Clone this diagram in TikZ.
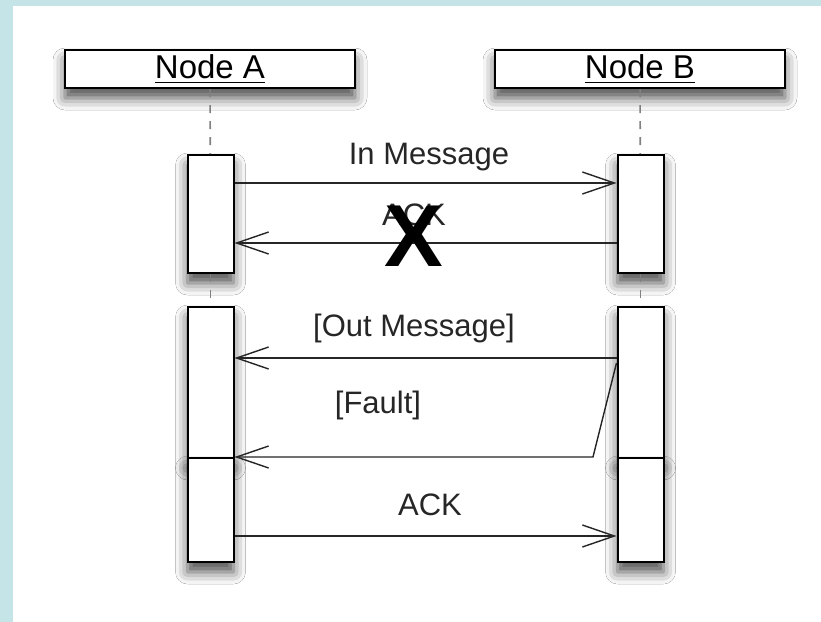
\documentclass[tikz,border=0pt]{standalone}
\usepackage{fontspec}
\setmainfont{Liberation Sans}
\usetikzlibrary{arrows.meta, shadows.blur}
\tikzset{>={Straight Barb[length=16pt,width=11pt]}}
\definecolor{bgblue}{HTML}{C5E4E8}

\begin{document}
\begin{tikzpicture}[x=0.5pt, y=-0.5pt,
    boxshadow/.style={blur shadow={shadow xshift=0pt, shadow yshift=-5pt, shadow blur radius=6pt, shadow opacity=70}},
    header/.style={draw, line width=1pt, fill=white, minimum width=145pt, minimum height=19pt, inner sep=0pt, font=\fontsize{16.5}{18}\selectfont, boxshadow},
    actbox/.style={draw, line width=1pt, fill=white, minimum width=23pt, inner sep=0pt, boxshadow},
    msg/.style={->, line width=0.7pt, black!85},
    lifeline/.style={gray, line width=0.8pt, dash pattern=on 4pt off 4pt},
    lbl/.style={font=\fontsize{15.5}{17}\selectfont, text=black!85}]
    \useasboundingbox (0,0) rectangle (821,622);
    \fill[bgblue] (0,0) rectangle (821,622);
    \fill[white] (13,6) rectangle (821,622);

    % objects
    \node[header] (nodeA) at (210,69) {\underline{Node A}};
    \node[header] (nodeB) at (640,69) {\underline{Node B}};

    % activations
    \node[actbox, minimum height=59pt] (a1) at (210.5,214) {};
    \node[actbox, minimum height=59pt] (b1) at (640.5,214) {};
    \node[actbox, minimum height=75.5pt] (a2up) at (210.5,382.5) {};
    \node[actbox, minimum height=75.5pt] (b2up) at (640.5,382.5) {};
    \node[actbox, minimum height=52pt] (a2lo) at (210.5,510) {};
    \node[actbox, minimum height=52pt] (b2lo) at (640.5,510) {};

    % lifelines
    \draw[lifeline] (nodeA) -- (a1);
    \draw[lifeline] (a1) -- (a2up);
    \draw[lifeline] (nodeB) -- (b1);
    \draw[lifeline] (b1) -- (b2up);

    % message rows
    \coordinate (inrow) at (0,183);
    \coordinate (ackrow) at (0,243);
    \coordinate (outrow) at (0,358);
    \coordinate (faultrow) at (0,363);
    \coordinate (faultbend) at (593,457);
    \coordinate (ack2row) at (0,536);

    \draw[msg] (a1.east |- inrow) -- (b1.west |- inrow);
    \draw[msg] (b1.west |- ackrow) -- (a1.east |- ackrow);
    \draw[msg] (b2up.west |- outrow) -- (a2up.east |- outrow);
    \draw[msg] (b2up.west |- faultrow) -- (faultbend) -- (a2up.east |- faultbend);
    \draw[msg] (a2lo.east |- ack2row) -- (b2lo.west |- ack2row);

    % labels
    \node[lbl] (inlbl) at (429,157) {In Message};
    \node[lbl] (acklbl) at (414,215) {ACK};
    \node[font=\fontsize{44}{44}\selectfont\bfseries] (cancel) at (414,236) {X};
    \node[lbl] (outlbl) at (414,328) {[Out Message]};
    \node[lbl] (faultlbl) at (378,405) {[Fault]};
    \node[lbl] (ack2lbl) at (430,505) {ACK};
\end{tikzpicture}
\end{document}
